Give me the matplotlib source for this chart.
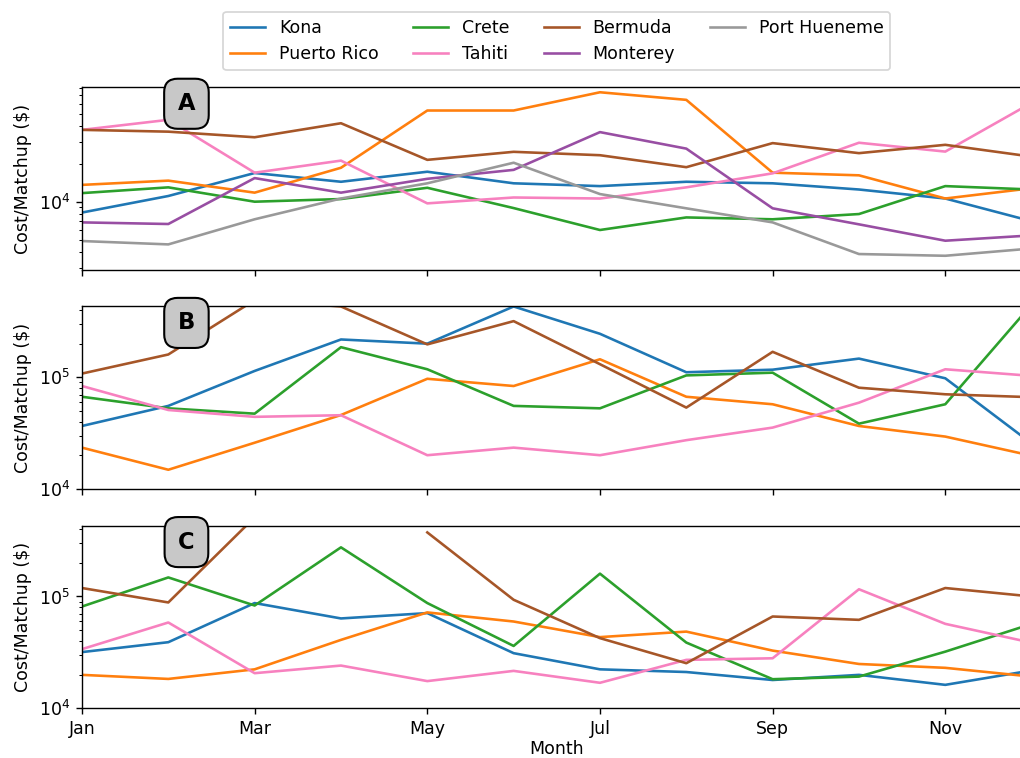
import matplotlib
matplotlib.use('Agg')
import matplotlib.pyplot as plt
import numpy as np

months = ['Jan', 'Feb', 'Mar', 'Apr', 'May', 'Jun',
          'Jul', 'Aug', 'Sep', 'Oct', 'Nov', 'Dec']

cities = ['Kona', 'Puerto Rico', 'Crete', 'Tahiti', 'Bermuda', 'Monterey', 'Port Hueneme']
colors = {'Kona': '#1f77b4', 'Puerto Rico': '#ff7f0e', 'Crete': '#2ca02c',
          'Tahiti': '#f781bf', 'Bermuda': '#a65628', 'Monterey': '#984ea3',
          'Port Hueneme': '#999999'}

# cost per matchup ($), scenario A
cost_a = {
    'Kona':         [8.2e3, 1.11e4, 1.69e4, 1.44e4, 1.73e4, 1.40e4, 1.33e4, 1.44e4, 1.40e4, 1.25e4, 1.06e4, 7.0e3],
    'Puerto Rico':  [1.36e4, 1.47e4, 1.18e4, 1.86e4, 5.3e4, 5.3e4, 7.4e4, 6.44e4, 1.70e4, 1.62e4, 1.06e4, 1.28e4],
    'Crete':        [1.17e4, 1.30e4, 1.0e4, 1.05e4, 1.29e4, 8.9e3, 5.96e3, 7.5e3, 7.25e3, 7.98e3, 1.33e4, 1.25e4],
    'Tahiti':       [3.72e4, 4.47e4, 1.70e4, 2.12e4, 9.7e3, 1.08e4, 1.06e4, 1.30e4, 1.68e4, 2.94e4, 2.5e4, 6.1e4],
    'Bermuda':      [3.72e4, 3.6e4, 3.25e4, 4.2e4, 2.15e4, 2.49e4, 2.34e4, 1.88e4, 2.92e4, 2.43e4, 2.83e4, 2.28e4],
    'Monterey':     [6.85e3, 6.65e3, 1.54e4, 1.18e4, 1.52e4, 1.79e4, 3.57e4, 2.64e4, 8.86e3, 6.61e3, 4.9e3, 5.4e3],
    'Port Hueneme': [4.87e3, 4.58e3, 7.25e3, 1.06e4, 1.40e4, 2.04e4, 1.15e4, 8.86e3, 6.85e3, 3.84e3, 3.72e3, 4.25e3],
}

# scenario B
cost_b = {
    'Kona':        [3.67e4, 5.55e4, 1.14e5, 2.18e5, 2.0e5, 4.3e5, 2.45e5, 1.11e5, 1.17e5, 1.47e5, 9.8e4, 2.56e4],
    'Puerto Rico': [2.35e4, 1.49e4, 2.6e4, 4.6e4, 9.7e4, 8.36e4, 1.45e5, 6.7e4, 5.74e4, 3.67e4, 2.95e4, 1.99e4],
    'Crete':       [6.7e4, 5.28e4, 4.73e4, 1.86e5, 1.18e5, 5.55e4, 5.28e4, 1.04e5, 1.1e5, 3.85e4, 5.74e4, 4.48e5],
    'Tahiti':      [8.36e4, 5.1e4, 4.43e4, 4.58e4, 2.01e4, 2.35e4, 2.01e4, 2.74e4, 3.55e4, 5.93e4, 1.18e5, 1.03e5],
    'Bermuda':     [1.08e5, 1.6e5, 4.9e5, 4.3e5, 1.97e5, 3.18e5, 1.31e5, 5.36e4, 1.69e5, 8.07e4, 7.05e4, 6.64e4],
}

# scenario C
cost_c = {
    'Kona':        [3.18e4, 3.9e4, 8.73e4, 6.36e4, 7.1e4, 3.11e4, 2.23e4, 2.11e4, 1.79e4, 1.99e4, 1.62e4, 2.18e4],
    'Puerto Rico': [1.99e4, 1.83e4, 2.23e4, 4.09e4, 7.2e4, 5.97e4, 4.33e4, 4.85e4, 3.28e4, 2.49e4, 2.3e4, 1.92e4],
    'Crete':       [8.13e4, 1.48e5, 8.3e4, 2.75e5, 8.73e4, 3.61e4, 1.6e5, 3.87e4, 1.82e4, 1.92e4, 3.21e4, 5.68e4],
    'Tahiti':      [3.38e4, 5.85e4, 2.06e4, 2.41e4, 1.75e4, 2.16e4, 1.69e4, 2.71e4, 2.8e4, 1.16e5, 5.69e4, 3.86e4],
    'Bermuda':     [1.19e5, 8.84e4, 5.1e5, np.nan, 3.74e5, 9.34e4, 4.24e4, 2.53e4, 6.62e4, 6.18e4, 1.19e5, 1.0e5],
}

panels = [('A', cost_a, (2.87e3, 8.1e4)),
          ('B', cost_b, (1e4, 4.3e5)),
          ('C', cost_c, (1e4, 4.3e5))]

x = np.arange(len(months))

fig, axs = plt.subplots(3, 1, figsize=(1021 / 125, 758 / 125), dpi=125, sharex=True)
fig.subplots_adjust(left=0.0803, right=1.0104, bottom=0.0656, top=0.8848, hspace=0.2)

for ax, (tag, data, ylim) in zip(axs, panels):
    for city in cities:
        if city in data:
            ax.plot(x, data[city], color=colors[city], label=city)
    ax.set_yscale('log')
    ax.set_ylim(*ylim)
    ax.set_ylabel('Cost/Matchup ($)')
    ax.text(0.11, 0.91, tag, transform=ax.transAxes, ha='center', va='center',
            fontsize=13, fontweight='bold',
            bbox=dict(boxstyle='round,pad=0.6', facecolor='#c8c8c8', edgecolor='black', linewidth=1.2))

axs[2].set_xlim(0, 11)
axs[2].set_xticks(x[::2], months[::2])
axs[2].set_xlabel('Month', labelpad=1)

axs[0].legend(loc='lower center', bbox_to_anchor=(0.5, 1.045), ncol=4)

fig.savefig('out.png', dpi=125)
